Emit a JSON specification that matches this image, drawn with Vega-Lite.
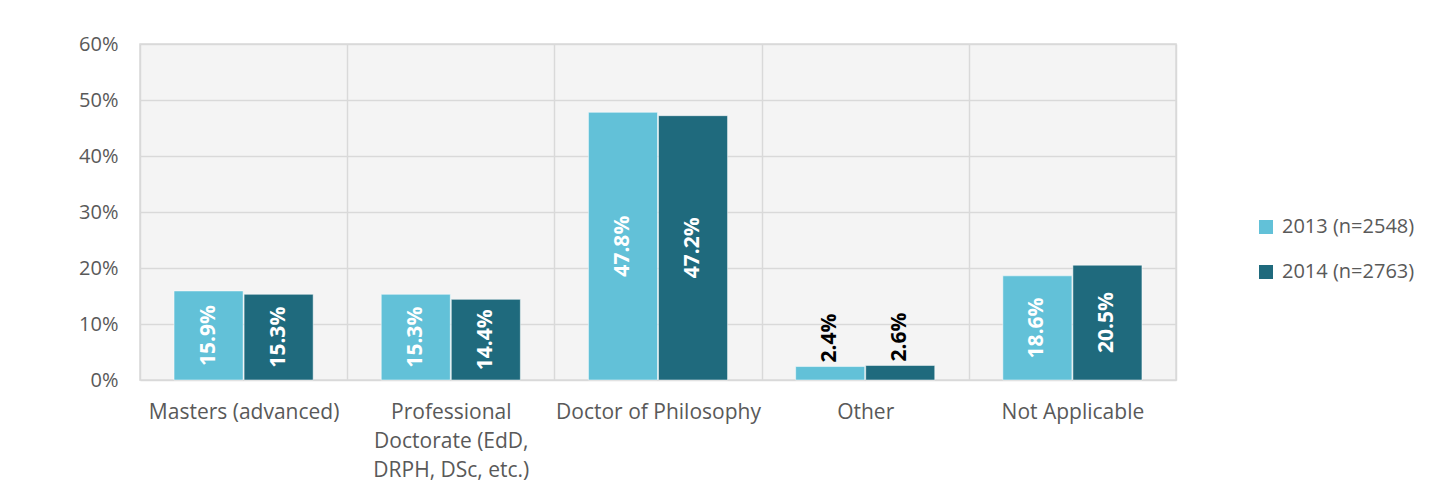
{
  "$schema": "https://vega.github.io/schema/vega-lite/v6.json",
  "autosize": "none",
  "width": 1036,
  "height": 336,
  "padding": {"left": 140, "top": 44, "right": 272, "bottom": 103},
  "background": "#ffffff",
  "config": {
    "view": {"fill": "#f4f4f4", "stroke": "#d9d9d9", "strokeWidth": 1.5},
    "font": "Open Sans"
  },
  "data": {
    "values": [
      {"category": "Masters (advanced)", "series": "2013 (n=2548)", "value": 0.159},
      {"category": "Masters (advanced)", "series": "2014 (n=2763)", "value": 0.153},
      {"category": "Professional Doctorate (EdD, DRPH, DSc, etc.)", "series": "2013 (n=2548)", "value": 0.153},
      {"category": "Professional Doctorate (EdD, DRPH, DSc, etc.)", "series": "2014 (n=2763)", "value": 0.144},
      {"category": "Doctor of Philosophy", "series": "2013 (n=2548)", "value": 0.478},
      {"category": "Doctor of Philosophy", "series": "2014 (n=2763)", "value": 0.472},
      {"category": "Other", "series": "2013 (n=2548)", "value": 0.024},
      {"category": "Other", "series": "2014 (n=2763)", "value": 0.026},
      {"category": "Not Applicable", "series": "2013 (n=2548)", "value": 0.186},
      {"category": "Not Applicable", "series": "2014 (n=2763)", "value": 0.205}
    ]
  },
  "encoding": {
    "x": {
      "field": "category", "type": "nominal", "sort": null,
      "scale": {"paddingInner": 0, "paddingOuter": 0},
      "axis": {
        "title": null, "labelAngle": 0, "domain": false, "ticks": false,
        "grid": true, "tickBand": "extent", "gridColor": "#d9d9d9", "gridWidth": 1.5,
        "labelFontSize": 21, "labelColor": "#595959", "labelPadding": 21,
        "labelLineHeight": 29, "labelBaseline": "top", "labelLimit": 0,
        "labelExpr": "datum.label == 'Professional Doctorate (EdD, DRPH, DSc, etc.)' ? ['Professional', 'Doctorate (EdD,', 'DRPH, DSc, etc.)'] : datum.label"
      }
    },
    "xOffset": {
      "field": "series", "type": "nominal",
      "scale": {"paddingInner": 0.014, "paddingOuter": 0.486}
    }
  },
  "layer": [
    {
      "mark": {"type": "bar", "stroke": "#ffffff", "strokeWidth": 0.5},
      "encoding": {
        "y": {
          "field": "value", "type": "quantitative",
          "scale": {"domain": [0, 0.6], "nice": false},
          "axis": {
            "title": null, "format": ".0%", "values": [0, 0.1, 0.2, 0.3, 0.4, 0.5, 0.6],
            "domain": false, "ticks": false, "grid": true,
            "gridColor": "#d9d9d9", "gridWidth": 1.5,
            "labelFontSize": 20, "labelColor": "#595959", "labelPadding": 22
          }
        },
        "color": {
          "field": "series", "type": "nominal",
          "scale": {"range": ["#62c1d8", "#1f6a7d"]},
          "legend": {
            "title": null, "orient": "none", "legendX": 1116, "legendY": 173,
            "symbolType": "square", "symbolSize": 196, "symbolStrokeWidth": 0,
            "labelFontSize": 20, "labelColor": "#595959", "labelOffset": 6,
            "rowPadding": 25, "padding": 0
          }
        }
      }
    },
    {
      "transform": [{"filter": "datum.category != 'Other'"}],
      "mark": {"type": "text", "angle": 270, "align": "center", "baseline": "middle", "fontWeight": "bold", "fontSize": 21, "color": "#ffffff"},
      "encoding": {
        "y": {"field": "value", "type": "quantitative", "scale": {"domain": [0, 1.2], "nice": false}, "axis": null},
        "text": {"field": "value", "type": "quantitative", "format": ".1%"}
      }
    },
    {
      "transform": [{"filter": "datum.category == 'Other'"}],
      "mark": {"type": "text", "angle": 270, "align": "left", "baseline": "middle", "fontWeight": "bold", "fontSize": 21, "color": "#000000", "dx": 4},
      "encoding": {
        "y": {"field": "value", "type": "quantitative", "scale": {"domain": [0, 0.6], "nice": false}, "axis": null},
        "text": {"field": "value", "type": "quantitative", "format": ".1%"}
      }
    }
  ],
  "resolve": {"scale": {"y": "independent"}}
}
